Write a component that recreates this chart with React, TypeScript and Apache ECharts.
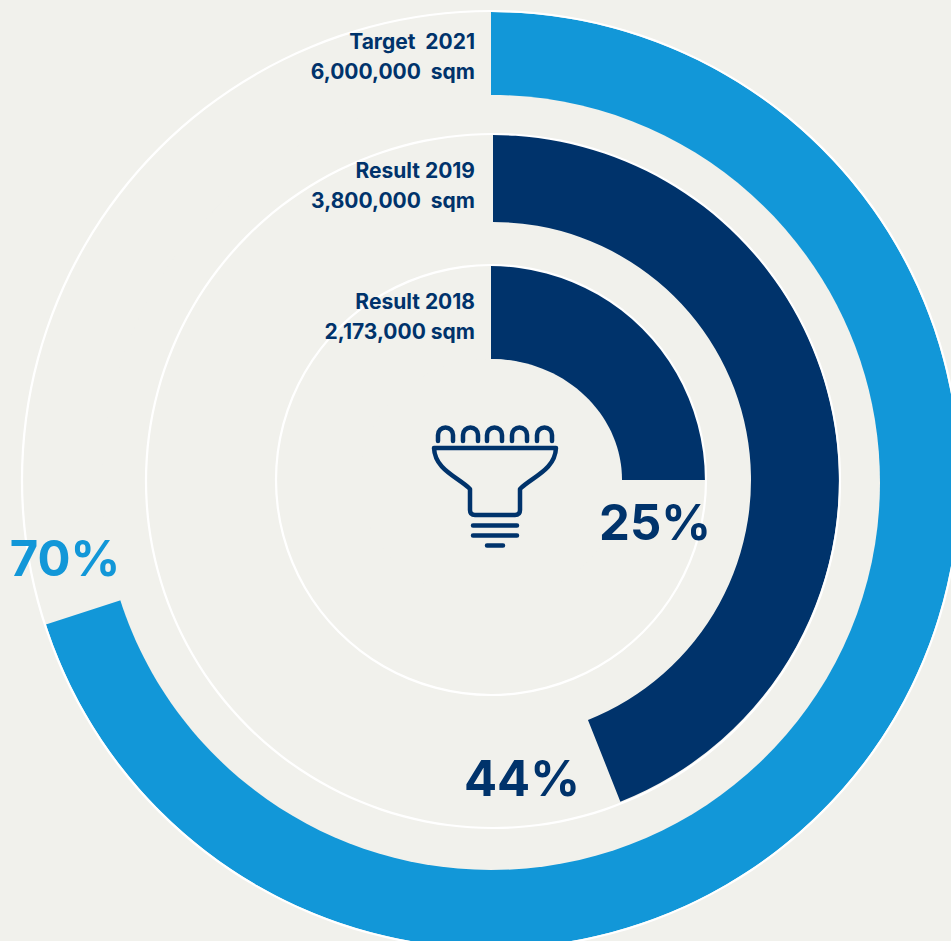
import React, { useEffect, useRef } from "react";
import * as echarts from "echarts";

const BG = "#f1f1ec";
const NAVY = "#00336b";
const BLUE = "#1297d8";
const FONT = "Inter, 'Noto Sans', sans-serif";

const ringNames = ["Result 2018", "Result 2019", "Target  2021"];
const ringAreas = ["2,173,000 sqm", "3,800,000  sqm", "6,000,000  sqm"];
const ringPercents = [25, 44, 70];
const ringLabels = ["25%", "44%", "70%"];

const ICON_PATH =
  "M438 441 V435 A7.5 7.5 0 0 1 453 435 V441 M463 441 V435 A7.5 7.5 0 0 1 478 435 V441 M487 441 V435 A7.5 7.5 0 0 1 502 435 V441 M512 441 V435 A7.5 7.5 0 0 1 527 435 V441 M537 441 V435 A7.5 7.5 0 0 1 552 435 V441 " +
  "M434 448 H556 C555 470 532 477 520 489 V510 Q520 515 515 515 H475 Q470 515 470 510 V489 C458 477 435 470 434 448 Z " +
  "M473 525.5 H517 M473 535.5 H517 M487 545.5 H503";
echarts.graphic.registerShape("bulbIcon", echarts.graphic.extendPath(ICON_PATH, {}) as any);

const trackCenters: [number, number][] = [[491, 480], [493, 481], [491, 480]];
const trackRadii = [215, 347, 469];
const bandCenters: [number, number][] = [[491, 480], [493, 480], [491, 480]];
const bandRadii: [number, number][] = [[121, 215], [258, 346], [370, 468]];
const bandColors = [NAVY, NAVY, BLUE];
const bandZ = [2, 2, 1];
const nameY = [301, 170, 41];
const areaY = [331, 200, 71];
const pctPos: [number, number, string][] = [
  [655, 522, NAVY],
  [522, 778, NAVY],
  [65, 558, BLUE],
];

export default function App() {
  const ref = useRef<HTMLDivElement>(null);
  useEffect(() => {
    document.body.style.margin = "0";
    const chart = echarts.init(ref.current!, null, { renderer: "svg" });
    const tracks = trackRadii.map((r, i) => ({
      type: "pie",
      center: trackCenters[i],
      radius: [r - 1.1, r + 1.1],
      silent: true,
      label: { show: false },
      labelLine: { show: false },
      itemStyle: { color: "#ffffff" },
      data: [100],
    }));
    const bands = ringPercents.map((p, i) => ({
      type: "pie",
      center: bandCenters[i],
      radius: bandRadii[i],
      startAngle: 90,
      clockwise: true,
      silent: true,
      z: bandZ[i],
      label: { show: false },
      labelLine: { show: false },
      data: [
        { value: p, itemStyle: { color: bandColors[i] } },
        { value: 100 - p, itemStyle: { color: "transparent" } },
      ],
    }));
    const texts: any[] = [];
    ringNames.forEach((n, i) => {
      texts.push({
        type: "text", x: 475, y: nameY[i], z: 10,
        style: { text: n, align: "right", verticalAlign: "middle", fill: NAVY, font: `700 21px ${FONT}` },
      });
      texts.push({
        type: "text", x: 475, y: areaY[i], z: 10,
        style: { text: ringAreas[i], align: "right", verticalAlign: "middle", fill: NAVY, font: `700 21px ${FONT}` },
      });
      texts.push({
        type: "text", x: pctPos[i][0], y: pctPos[i][1], z: 10,
        style: { text: ringLabels[i], align: "center", verticalAlign: "middle", fill: pctPos[i][2], font: `700 49px ${FONT}` },
      });
    });
    chart.setOption({
      animation: false,
      backgroundColor: BG,
      series: [...bands, ...tracks],
      graphic: [
        { type: "ellipse", shape: { cx: 491, cy: 482.5, rx: 389, ry: 387.5 }, z: 1.5, style: { fill: BG } },
        { type: "ellipse", shape: { cx: 491, cy: 480, rx: 131, ry: 121 }, z: 5, style: { fill: BG } },
        { type: "bulbIcon", z: 10, style: { fill: "none", stroke: NAVY, lineWidth: 4.5, lineCap: "round", lineJoin: "round" } },
        ...texts,
      ],
    });
    return () => chart.dispose();
  }, []);
  return <div ref={ref} style={{ width: 951, height: 941, position: "absolute", left: 0, top: 0, overflow: "hidden" }} />;
}
